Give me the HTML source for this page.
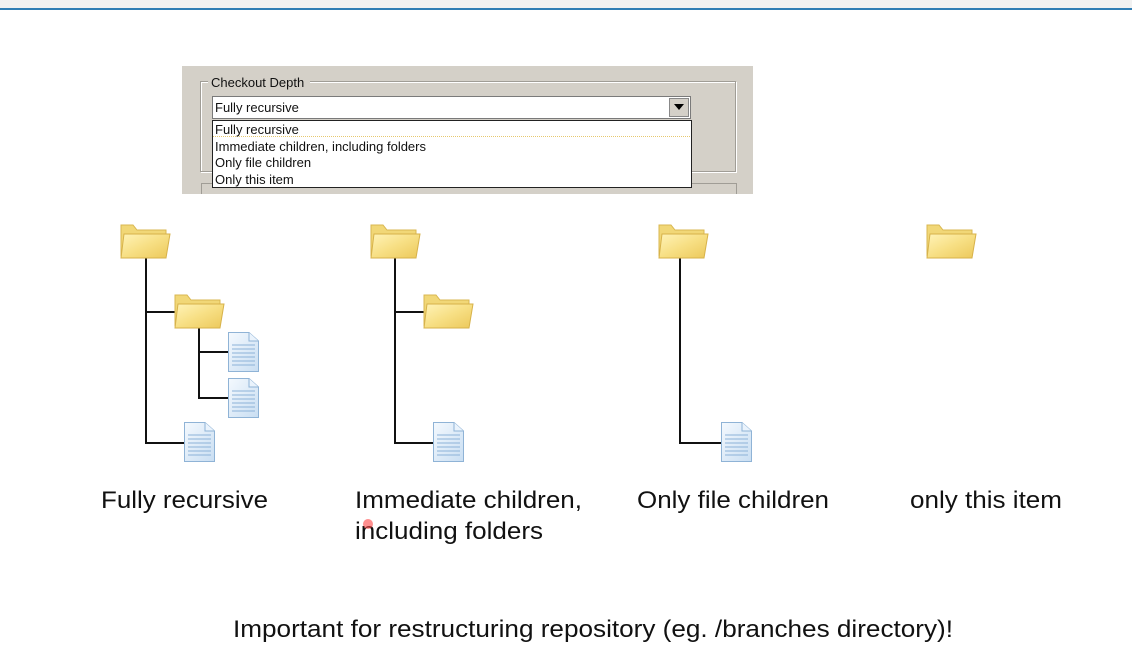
<!DOCTYPE html>
<html><head><meta charset="utf-8"><style>
html,body{margin:0;padding:0;background:#fff;width:1132px;height:670px;overflow:hidden}
svg{display:block}
</style></head><body>
<svg width="1132" height="670" viewBox="0 0 1132 670" xmlns="http://www.w3.org/2000/svg" font-family="Liberation Sans, Arial, sans-serif">
<defs>
<linearGradient id="fg" x1="0" y1="0" x2="1" y2="1">
<stop offset="0" stop-color="#fff3b8"/><stop offset="0.5" stop-color="#f7df84"/><stop offset="1" stop-color="#ecc85a"/>
</linearGradient>
<linearGradient id="dg" x1="0" y1="0" x2="1" y2="1">
<stop offset="0" stop-color="#f4f9fe"/><stop offset="1" stop-color="#c9def2"/>
</linearGradient>
<g id="folder">
<path d="M1 3 L13 3 L17 8 L46 8 L46 34 L1 34 Z" fill="#f1d777" stroke="#d9b750" stroke-width="1"/>
<path d="M4 12 L50 12 L46 36 L1 36 Z" fill="url(#fg)" stroke="#d7b24a" stroke-width="1"/>
</g>
<g id="doc">
<path d="M0.5 0.5 L21 0.5 L30.5 9 L30.5 39.5 L0.5 39.5 Z" fill="url(#dg)" stroke="#8fb3d6" stroke-width="1"/>
<path d="M21 0.5 L21 9 L30.5 9" fill="#eaf3fc" stroke="#8fb3d6" stroke-width="1"/>
<g stroke="#8cb2d8" stroke-width="1">
<line x1="4" y1="13" x2="27" y2="13"/><line x1="4" y1="17" x2="27" y2="17"/><line x1="4" y1="21" x2="27" y2="21"/>
<line x1="4" y1="25" x2="27" y2="25"/><line x1="4" y1="29" x2="27" y2="29"/><line x1="4" y1="33" x2="27" y2="33"/>
</g>
</g>
<clipPath id="dlg"><rect x="182" y="66" width="571" height="128"/></clipPath>
</defs>
<rect x="0" y="0" width="1132" height="8" fill="#f1f1f1"/>
<rect x="0" y="8" width="1132" height="2" fill="#2f7db4"/>
<g clip-path="url(#dlg)">
<rect x="182" y="66" width="571" height="128" fill="#d4d0c8"/>
<rect x="201.5" y="82.5" width="535" height="90" fill="none" stroke="#fff"/>
<rect x="200.5" y="81.5" width="535" height="90" fill="none" stroke="#a09d96"/>
<rect x="208" y="75" width="102" height="14" fill="#d4d0c8"/>
<text x="211" y="87" font-size="13" fill="#111">Checkout Depth</text>
<rect x="201.5" y="183.5" width="535" height="20" fill="none" stroke="#a09d96"/>
<rect x="212.5" y="96.5" width="478" height="22" fill="#fff" stroke="#7a7a7a"/>
<text x="215" y="112" font-size="13" fill="#111">Fully recursive</text>
<rect x="669.5" y="98.5" width="19" height="18" fill="#d4d0c8" stroke="#888"/>
<path d="M674 104 L684 104 L679 110 Z" fill="#000"/>
<rect x="212.5" y="120.5" width="479" height="67" fill="#fff" stroke="#222"/>
<line x1="213" y1="136.5" x2="690" y2="136.5" stroke="#e6c870" stroke-dasharray="1 1"/>
<g font-size="13" fill="#111">
<text x="215" y="134">Fully recursive</text>
<text x="215" y="151">Immediate children, including folders</text>
<text x="215" y="167">Only file children</text>
<text x="215" y="184">Only this item</text>
</g>
</g>
<g stroke="#111" stroke-width="2" fill="none">
<path d="M146 258 V443 H185"/><path d="M146 312 H176"/>
<path d="M199 328 V398 H229"/><path d="M199 352 H229"/>
<path d="M395 258 V443 H434"/><path d="M395 312 H425"/>
<path d="M680 258 V443 H722"/>
</g>
<use href="#folder" x="120" y="222"/>
<use href="#folder" x="174" y="292"/>
<use href="#doc" x="228" y="332"/>
<use href="#doc" x="228" y="378"/>
<use href="#doc" x="184" y="422"/>
<use href="#folder" x="370" y="222"/>
<use href="#folder" x="423" y="292"/>
<use href="#doc" x="433" y="422"/>
<use href="#folder" x="658" y="222"/>
<use href="#doc" x="721" y="422"/>
<use href="#folder" x="926" y="222"/>
<g font-size="24" fill="#111">
<text x="101" y="508" textLength="167" lengthAdjust="spacingAndGlyphs">Fully recursive</text>
<text x="355" y="508" textLength="227" lengthAdjust="spacingAndGlyphs">Immediate children,</text>
<text x="355" y="539" textLength="188" lengthAdjust="spacingAndGlyphs">including folders</text>
<text x="637" y="508" textLength="192" lengthAdjust="spacingAndGlyphs">Only file children</text>
<text x="910" y="508" textLength="152" lengthAdjust="spacingAndGlyphs">only this item</text>
<text x="233" y="637" textLength="720" lengthAdjust="spacingAndGlyphs">Important for restructuring repository (eg. /branches directory)!</text>
</g>
<circle cx="368" cy="524" r="5" fill="#f44" opacity="0.6"/>
</svg>
</body></html>
